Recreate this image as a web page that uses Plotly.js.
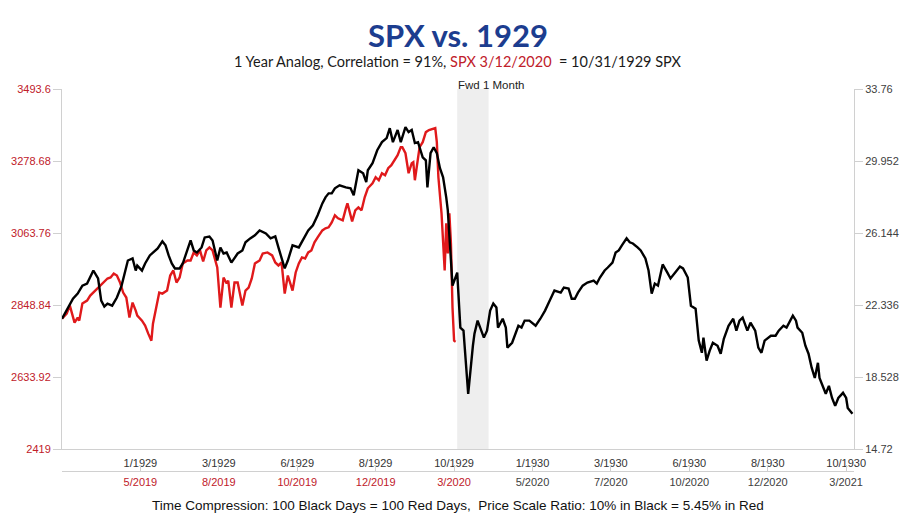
<!DOCTYPE html>
<html>
<head>
<meta charset="utf-8">
<script src="https://cdn.plot.ly/plotly-3.0.1.min.js"></script>
<style>html,body{margin:0;padding:0;background:#fff;}#chart{width:919px;height:516px;}</style>
</head>
<body>
<div id="chart"></div>
<script>
// ---- Data (trading-day index, common time axis: 100 black days = 100 red days) ----
const blackDays = [
  0,4,7,10,13,16,18,20,23,25,
  27,29,32,35,38,40,42,45,47,48,
  51,53,56,58,61,64,66,68,70,72,
  75,77,80,82,84,86,89,91,94,96,
  99,101,103,105,108,112,115,117,120,123,
  126,130,133,136,138,140,142,144,147,151,
  154,157,160,163,166,168,170,172,174,177,
  181,184,186,189,192,194,195,198,201,204,
  207,209,211,214,216,219,221,223,225,227,
  230,232,233,235,237,239,241,243,245,246,
  247,249,252,254,256,259,262,263,265,269,
  271,273,275,277,278,281,283,284,287,289,
  291,293,295,298,302,305,308,311,314,318,
  320,323,325,327,329,332,335,339,341,343,
  346,348,351,353,355,357,360,362,364,367,
  369,372,374,376,378,380,383,386,388,391,
  394,396,399,401,404,406,408,409,411,413,
  415,418,420,422,425,428,430,432,434,437,
  439,442,444,446,448,452,455,457,460,462,
  466,468,469,472,474,476,478,480,482,483,
  487,489,491,493,495,498,500,501,504
];
const spx1929 = [
  21.61,22.20,22.67,22.94,23.36,23.47,23.79,24.16,23.74,22.57,
  22.25,22.41,22.30,22.73,23.36,24.00,24.69,24.80,24.16,24.42,
  24.16,24.53,24.96,25.11,25.33,25.70,25.49,24.96,24.53,24.27,
  24.27,24.53,25.33,25.75,25.22,25.11,25.38,25.91,25.96,25.75,
  24.69,25.38,25.06,25.11,24.58,25.06,25.22,25.65,25.86,26.02,
  26.28,26.12,25.86,25.96,25.38,24.85,24.27,24.69,25.49,25.38,
  25.86,26.28,26.55,27.08,27.71,28.03,28.24,28.24,28.51,28.67,
  28.56,28.51,28.14,29.46,29.30,28.83,29.46,29.84,30.52,30.95,
  31.16,31.69,30.95,31.59,30.95,31.74,31.48,31.59,30.90,30.95,
  30.15,29.99,28.56,30.37,30.68,30.37,29.57,29.09,28.03,27.34,
  26.02,23.36,24.05,21.14,20.98,17.64,20.18,20.82,21.51,20.61,
  20.98,22.04,22.41,22.20,21.14,21.61,21.14,20.08,20.34,20.82,
  21.24,21.14,21.51,21.51,21.24,21.61,22.04,22.57,23.10,22.99,
  23.26,23.21,22.67,22.67,22.99,23.36,23.52,23.63,23.47,23.79,
  24.16,24.32,24.58,25.11,25.22,25.49,25.86,25.65,25.59,25.38,
  25.22,24.80,24.16,22.94,23.47,23.36,24.48,24.05,23.74,24.05,
  24.37,24.27,23.79,22.30,22.14,20.45,19.81,20.61,19.39,19.92,
  20.34,20.18,19.76,20.55,21.24,21.61,20.98,21.51,21.67,20.98,
  21.40,20.98,20.08,19.81,20.45,20.71,20.71,20.98,21.24,21.14,
  21.77,21.51,21.14,20.87,20.18,19.76,19.02,18.48,19.28,18.48,
  17.64,18.06,17.42,17.00,17.42,17.69,17.42,16.89,16.58
];
const redDays = [
  0,3,5,6,8,10,11,13,16,18,
  20,22,24,26,29,31,33,35,37,39,
  41,43,45,47,48,51,53,55,57,58,
  61,62,64,67,69,71,73,75,77,80,
  82,84,86,88,90,92,94,96,99,101,
  103,105,106,108,110,112,115,117,119,121,
  123,126,128,131,134,136,138,140,142,144,
  147,149,151,153,155,157,159,161,163,166,
  168,170,172,174,176,179,181,182,185,187,
  189,191,193,195,198,200,202,204,206,208,
  210,212,214,216,217,219,221,223,224,225,
  226,228,230,232,234,237,238,239,240,242,
  243,244,245,246,247,248,249,250,251
];
const spx2019 = [
  2808.2,2823.2,2847.1,2832.1,2796.2,2811.2,2802.2,2853.1,2862.1,2877.0,
  2886.0,2898.0,2907.0,2916.0,2927.9,2930.9,2942.9,2936.9,2916.0,2886.0,
  2871.1,2811.2,2856.1,2832.1,2817.2,2802.2,2787.3,2763.3,2742.4,2793.2,
  2871.1,2886.0,2883.0,2892.0,2936.9,2951.9,2916.0,2930.9,2972.8,2981.8,
  2981.8,3005.7,2996.8,3011.7,2978.8,3011.7,3020.7,3011.7,2960.8,2841.1,
  2930.9,2913.0,2921.9,2841.1,2916.0,2916.0,2847.1,2892.0,2901.0,2927.9,
  2972.8,2981.8,3002.7,3005.7,2996.8,2975.8,2966.8,2975.8,2883.0,2936.9,
  2892.0,2945.9,2972.8,2990.8,2987.8,3005.7,3011.7,3035.7,3050.6,3071.6,
  3077.6,3080.6,3095.5,3116.5,3107.5,3101.5,3137.4,3152.4,3098.5,3131.4,
  3140.4,3131.4,3170.4,3197.3,3212.3,3230.2,3221.2,3242.2,3236.2,3257.2,
  3266.1,3281.1,3296.1,3320.0,3320.0,3302.0,3242.2,3272.1,3275.1,3221.2,
  3260.1,3320.0,3335.0,3364.9,3370.9,3376.9,3376.9,3335.0,3230.2,3122.5,
  3011.7,2951.9,3092.5,3002.7,3122.5,3032.7,2841.1,2742.4,2739.4
];
const tickDays = [50,100,150,200,250,300,350,400,450,500];
const blackTickLabels = ["1/1929","3/1929","6/1929","8/1929","10/1929","1/1930","3/1930","6/1930","8/1930","10/1930"];
const redTickLabels = ["5/2019","8/2019","10/2019","12/2019","3/2020","5/2020","7/2020","10/2020","12/2020","3/2021"];
const redTickIsHistory = [true,true,true,true,true,false,false,false,false,false];
const leftTicks = [2419, 2633.92, 2848.84, 3063.76, 3278.68, 3493.6];
const rightTicks = [14.72, 18.528, 22.336, 26.144, 29.952, 33.76];
const fwdWindow = [252, 272];

const RED = "#e0191b";
const REDTXT = "#c0202a";
const GREY = "#d0d0d0";
const bottomDomain = 22/382;

const traces = [
  {x: blackDays, y: spx1929, xaxis: "x", yaxis: "y2", type: "scatter", mode: "lines",
   line: {color: "#000000", width: 2.4}, hoverinfo: "skip", showlegend: false},
  {x: redDays, y: spx2019, xaxis: "x", yaxis: "y", type: "scatter", mode: "lines",
   line: {color: RED, width: 2.4}, hoverinfo: "skip", showlegend: false},
  {x: [tickDays[0]], y: [leftTicks[0]], xaxis: "x2", yaxis: "y", type: "scatter", mode: "markers",
   marker: {opacity: 0}, hoverinfo: "skip", showlegend: false}
];

const layout = {
  width: 919, height: 516,
  margin: {l: 62, r: 65, t: 89, b: 45},
  paper_bgcolor: "#ffffff", plot_bgcolor: "#ffffff",
  showlegend: false,
  title: {text: "SPX vs. 1929", x: 0.5, xref: "paper", xanchor: "center",
          y: 1 - 36/516, yref: "container", yanchor: "middle",
          font: {family: "Lato, 'Open Sans', sans-serif", size: 31, color: "#1c3d8f", weight: 700}},
  xaxis: {range: [0, 505], tickvals: tickDays, ticktext: blackTickLabels,
          showgrid: false, zeroline: false, showline: true, linecolor: GREY, linewidth: 1,
          ticks: "", ticklabelstandoff: 4, anchor: "y",
          tickfont: {family: "'Liberation Sans', Arial, sans-serif", size: 11, color: "#333333"}},
  xaxis2: {range: [0, 505], overlaying: "x", anchor: "free", position: 0, side: "bottom",
           tickvals: tickDays,
           ticktext: redTickLabels.map((t, i) => redTickIsHistory[i] ? '<span style="color:' + REDTXT + '">' + t + '</span>' : t),
           showgrid: false, zeroline: false, showline: true, linecolor: GREY, linewidth: 1,
           ticks: "inside", ticklen: 6, tickcolor: GREY, ticklabelstandoff: 1,
           tickfont: {family: "'Liberation Sans', Arial, sans-serif", size: 11, color: "#404040"}},
  yaxis: {range: [leftTicks[0], leftTicks[5]], domain: [bottomDomain, 1],
          tickvals: leftTicks, ticktext: leftTicks.map(String),
          showgrid: false, zeroline: false, showline: true, linecolor: GREY,
          ticks: "outside", ticklen: 8, tickcolor: GREY,
          tickfont: {family: "'Liberation Sans', Arial, sans-serif", size: 11, color: REDTXT}},
  yaxis2: {range: [rightTicks[0], rightTicks[5]], overlaying: "y", side: "right", anchor: "x",
           tickvals: rightTicks, ticktext: rightTicks.map(String),
           showgrid: false, zeroline: false, showline: true, linecolor: GREY,
           ticks: "outside", ticklen: 8, tickcolor: GREY,
           tickfont: {family: "'Liberation Sans', Arial, sans-serif", size: 11, color: "#404040"}},
  shapes: [
    {type: "rect", xref: "x", yref: "y domain", x0: fwdWindow[0], x1: fwdWindow[1], y0: 0, y1: 1,
     fillcolor: "#eeeeee", line: {width: 0}, layer: "below"}
  ],
  annotations: [
    {text: '1 Year Analog, Correlation = 91%, <span style="color:' + REDTXT + '">SPX 3/12/2020 </span> = 10/31/1929 SPX',
     xref: "paper", yref: "paper", x: 0.5, y: (471 - 62)/382, xanchor: "center", yanchor: "middle",
     showarrow: false, font: {family: "Lato, 'Open Sans', sans-serif", size: 14.5, color: "#1a1a1a"}},
    {text: "Fwd 1 Month", xref: "x", yref: "paper", x: fwdWindow[0] - 1, y: (471 - 85)/382,
     xanchor: "left", yanchor: "middle", showarrow: false,
     font: {family: "'Liberation Sans Narrow', 'Arial Narrow', 'Liberation Sans', sans-serif", size: 11.5, color: "#222222"}},
    {text: "Time Compression: 100 Black Days = 100 Red Days,  Price Scale Ratio: 10% in Black = 5.45% in Red",
     xref: "paper", yref: "paper", x: 0.5, y: (471 - 506)/382, xanchor: "center", yanchor: "middle",
     showarrow: false, font: {family: "'Liberation Sans', Arial, sans-serif", size: 13.5, color: "#111111"}}
  ]
};

Plotly.newPlot("chart", traces, layout, {displayModeBar: false, staticPlot: true});
</script>
</body>
</html>
